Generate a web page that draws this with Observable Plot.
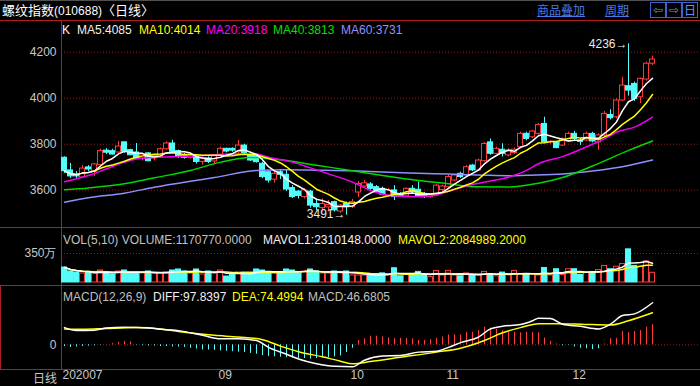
<!DOCTYPE html>
<html><head><meta charset="utf-8">
<script src="https://cdn.jsdelivr.net/npm/d3@7"></script>
<script src="https://cdn.jsdelivr.net/npm/@observablehq/plot@0.6"></script>
<style>
html,body{margin:0;padding:0;background:#000;}
#root{position:relative;width:700px;height:386px;background:#000;overflow:hidden;font-family:"Liberation Sans",Arial,sans-serif;font-size:12px;color:#c8c8c8;}
.abs{position:absolute;white-space:nowrap;line-height:14px;}
.hl{position:absolute;left:0;width:700px;height:1px;background:#b01e1e;}
.vl{position:absolute;width:1px;background:#b01e1e;}
.panel{position:absolute;left:0;}
.cjk{font-family:"Noto Sans CJK SC",sans-serif;}
.lnk{color:#4a78e8;text-decoration:underline;font-family:"Noto Sans CJK SC",sans-serif;font-size:12px;}
.btn{position:absolute;top:2px;width:14px;height:14px;border:1px solid #3c62d8;color:#6a90f0;font-size:12px;line-height:14px;text-align:center;font-family:"DejaVu Sans",sans-serif;}
</style></head>
<body><div id="root">
<div class="hl" style="top:0;background:#505050"></div>
<div class="abs cjk" style="left:2px;top:2px;color:#fff;font-size:13px;line-height:16px;">螺纹指数<span style="font-family:'Liberation Sans',Arial;font-size:12px;">(010688)</span>〈日线〉</div>
<div class="abs lnk" style="left:537px;top:2px;line-height:16px;">商品叠加</div>
<div class="abs lnk" style="left:605px;top:2px;line-height:16px;">周期</div>
<div class="btn" style="left:650px;">⇦</div>
<div class="btn" style="left:666px;">⇨</div>
<div class="btn cjk" style="left:682px;font-family:'Noto Sans CJK SC';">日</div>
<div class="hl" style="top:20px"></div>
<div class="hl" style="top:227px"></div>
<div class="hl" style="top:285px"></div>
<div class="hl" style="top:369px"></div>
<div class="vl" style="left:61px;top:20px;height:350px"></div>
<div class="vl" style="left:0;top:285px;height:85px"></div>
<div id="main" class="panel" style="top:20px"></div>
<div id="vol" class="panel" style="top:227px"></div>
<div id="macd" class="panel" style="top:286px"></div>
<div class="abs" style="left:62px;top:23px;color:#fff">K</div>
<div class="abs" style="left:77px;top:23px;color:#f0f0f0">MA5:4085</div>
<div class="abs" style="left:139px;top:23px;color:#ffff00">MA10:4014</div>
<div class="abs" style="left:206px;top:23px;color:#ff00ff">MA20:3918</div>
<div class="abs" style="left:273px;top:23px;color:#00e000">MA40:3813</div>
<div class="abs" style="left:341px;top:23px;color:#9090ff">MA60:3731</div>
<div class="abs" style="left:63px;top:233px;color:#c0c0c0">VOL(5,10) VOLUME:1170770.0000</div>
<div class="abs" style="left:263px;top:233px;color:#f0f0f0">MAVOL1:2310148.0000</div>
<div class="abs" style="left:398px;top:233px;color:#ffff00">MAVOL2:2084989.2000</div>
<div class="abs" style="left:63px;top:290px;color:#c0c0c0">MACD(12,26,9)</div>
<div class="abs" style="left:153px;top:290px;color:#f0f0f0">DIFF:97.8397</div>
<div class="abs" style="left:232px;top:290px;color:#ffff00">DEA:74.4994</div>
<div class="abs" style="left:308px;top:290px;color:#c0c0c0">MACD:46.6805</div>
<div class="abs cjk" style="left:33px;top:371px;color:#c8c8c8">日线</div>
</div>
<script>
// ---- data (daily candles, index 0 = first visible day) ----
const opens = [3741,3686,3668,3655,3699,3681,3709,3772,3770,3764,
 3808,3774,3764,3738,3760,3738,3745,3778,3803,3770,
 3752,3741,3745,3723,3738,3725,3751,3780,3780,3765,
 3794,3754,3748,3715,3678,3646,3678,3667,3609,3594,
 3570,3594,3540,3522,3525,3548,3507,3540,3526,3590,
 3616,3625,3613,3606,3577,3599,3584,3573,3606,3602,
 3584,3570,3577,3601,3613,3642,3671,3664,3707,3686,
 3726,3808,3758,3776,3751,3762,3787,3845,3830,3845,
 3888,3808,3806,3794,3812,3845,3815,3816,3845,3808,
 3838,3927,3917,3990,4052,4062,4004,4081,4150];
const highs = [3745,3716,3681,3707,3707,3716,3778,3781,3778,3812,
 3810,3778,3803,3760,3764,3755,3784,3810,3817,3774,
 3760,3762,3749,3745,3745,3755,3787,3782,3784,3816,
 3800,3765,3755,3722,3683,3681,3690,3686,3620,3599,
 3607,3599,3555,3562,3555,3552,3537,3548,3560,3637,
 3642,3633,3620,3613,3607,3620,3590,3610,3620,3635,
 3590,3581,3625,3622,3664,3668,3678,3707,3712,3735,
 3808,3823,3787,3802,3780,3784,3852,3852,3860,3890,
 3917,3815,3810,3826,3852,3856,3826,3852,3852,3845,
 3942,3950,3997,4091,4236,4070,4088,4157,4183];
const lows = [3673,3651,3651,3651,3681,3660,3707,3755,3752,3760,
 3760,3750,3735,3727,3723,3727,3741,3774,3760,3738,
 3735,3735,3714,3709,3716,3710,3748,3762,3765,3758,
 3757,3725,3718,3650,3631,3631,3646,3594,3564,3562,
 3562,3522,3510,3505,3510,3505,3500,3491,3520,3568,
 3610,3599,3586,3577,3570,3555,3568,3570,3586,3568,
 3565,3566,3573,3595,3607,3638,3651,3660,3681,3683,
 3722,3752,3755,3744,3745,3755,3780,3815,3825,3840,
 3806,3800,3780,3790,3808,3815,3795,3812,3806,3773,
 3830,3905,3910,3986,4009,3986,3977,4075,4142];
const closes = [3683,3660,3660,3694,3690,3712,3770,3763,3755,3790,
 3767,3752,3738,3755,3726,3749,3778,3803,3767,3745,
 3741,3752,3723,3738,3723,3751,3780,3768,3772,3794,
 3762,3729,3722,3657,3642,3671,3667,3603,3570,3575,
 3599,3533,3526,3540,3536,3512,3533,3526,3548,3627,
 3630,3606,3591,3581,3599,3570,3573,3606,3591,3573,
 3570,3577,3620,3616,3657,3664,3657,3700,3686,3729,
 3801,3758,3780,3758,3773,3776,3845,3823,3855,3884,
 3808,3810,3783,3823,3845,3823,3810,3845,3812,3838,
 3932,3913,3990,4055,4033,3997,4084,4150,4168];
// volume in 万 (10k lots)
const volumes = [181,133,121,109,121,109,145,121,97,133,
 145,121,121,109,133,109,109,121,145,157,
 133,109,157,97,133,109,145,72,97,121,
 121,121,157,145,121,109,121,157,145,109,
 133,157,133,109,109,133,121,133,85,85,
 85,90,100,110,90,172,75,100,100,128,
 90,65,140,85,140,85,75,110,90,100,
 128,100,75,120,90,140,100,100,100,85,
 175,85,160,90,160,160,90,120,120,150,
 200,160,190,223,400,200,190,255,117.077];
const macdHist = [-4,-6,-5,-4,-3,-2,-1,1,3,6,
 8,7,-1,-2,-3,-3,-4,-4,-5,-5,
 -6,-8,-10,-12,-12,-13,-14,-15,-16,-17,
 -18,-20,-22,-25,-27,-28,-29,-30,-31,-32,
 -32,-33,-32,-31,-30,-28,-26,-18,-8,10,
 14,20,20,18,16,14,15,15,14,10,
 10,12,15,18,23,23,23,29,29,33,
 41,39,36,33,29,29,28,29,29,28,
 16,8,2,-2,-1,-5,-8,-9,-11,-9,
 2,14,15,31,28,31,33,41,46.68];
// longer moving averages at sample days
const ma20Idx = [0,4,7,10,12,15,18,23,29,32,34,38,41,44,48,51,54,58,61,64,68,71,74,77,79,83,88,90,92,95,98];
const ma20Val = [3637,3664,3693,3722,3736,3743,3745,3751,3758,3757,3743,3722,3697,3671,3635,3599,3577,3572,3575,3595,3625,3640,3656,3686,3715,3746,3800,3823,3852,3874,3918];
const ma40Idx = [0,4,10,15,21,26,31,36,42,48,53,59,64,68,74,79,83,88,94,98];
const ma40Val = [3602,3610,3628,3654,3686,3722,3742,3732,3708,3685,3664,3642,3628,3615,3614,3630,3655,3705,3773,3814];
const ma60Idx = [0,4,10,15,21,25,32,37,42,48,53,59,64,70,74,77,83,88,94,98];
const ma60Val = [3548,3567,3587,3613,3639,3655,3686,3689,3687,3684,3679,3674,3670,3665,3663,3665,3670,3683,3707,3731];
const diffIdx = [0,2,5,7,10,14,17,19,23,26,29,32,34,37,39,42,45,48,50,53,56,59,62,64,66,69,71,73,76,78,79,81,83,86,89,91,93,95,98];
const diffVal = [40,33,34,39,41,39,35,33,22,14,14,10,-6,-22,-33,-44,-50,-51,-36,-26,-25,-17,-15,-6,5,18,37,43,47,56,62,61,48,43,37,48,68,72,97.84];
const deaIdx = [0,3,7,12,16,20,25,29,33,36,39,43,46,48,51,56,62,66,70,73,76,79,82,86,91,94,98];
const deaVal = [37,36,38,40,37,29,22,18,12,-3,-16,-28,-38,-44,-39,-29,-17,-8,10,28,40,49,49,48,46,56,74.5];
const priceTicks = [3600,3800,4000,4200];
const volTicks = [350];
const macdTicks = [0];
const monthIdx = [0,26,48,64,85];
const monthLabels = ["202007","09","10","11","12"];

// ---- drawing ----
const RED = "#ff3c3c", CYAN = "#54fcfc", GRID = "#a01818", TXT = "#c8c8c8";
const FONT = "'Liberation Sans', Arial, sans-serif";
const HW = 0.42; // half body width (in days)
const days = closes.map((c, i) => ({i, open: opens[i], high: highs[i], low: lows[i], close: c,
  vol: volumes[i], hist: macdHist[i], up: c >= opens[i]}));
const common = {width: 700, marginLeft: 61, marginRight: 0, marginTop: 0,
  style: {background: "transparent", color: TXT, fontSize: "12px", fontFamily: FONT, overflow: "visible"},
  x: {domain: [-0.5, 106], axis: null}};
const hiI = d3.maxIndex(highs), loI = d3.minIndex(lows);
const axisOpts = {anchor: "left", tickSize: 0, tickPadding: 5, fill: TXT, label: null, tickFormat: d => String(d)};

try {
const main = Plot.plot({...common, height: 207, marginBottom: 0,
  y: {domain: [3437.8, 4337.8], axis: null},
  marks: [
    Plot.ruleY(priceTicks, {stroke: GRID, strokeDasharray: "1,2"}),
    Plot.axisY(priceTicks, axisOpts),
    Plot.ruleX(days, {x: "i", y1: "low", y2: "high", stroke: d => d.up ? RED : CYAN}),
    Plot.rect(days, {x1: d => d.i - HW, x2: d => d.i + HW, y1: "open", y2: "close",
      fill: d => d.up ? "#000000" : CYAN, stroke: d => d.up ? RED : CYAN}),
    Plot.line(ma60Idx, {x: d => d, y: ma60Val, stroke: "#8f8fff", curve: "monotone-x"}),
    Plot.line(ma40Idx, {x: d => d, y: ma40Val, stroke: "#00d800", curve: "monotone-x"}),
    Plot.line(ma20Idx, {x: d => d, y: ma20Val, stroke: "#f000f0", curve: "monotone-x"}),
    Plot.lineY(days, Plot.windowY({k: 10, anchor: "end"}, {x: "i", y: "close", stroke: "#ffff00"})),
    Plot.lineY(days, Plot.windowY({k: 5, anchor: "end"}, {x: "i", y: "close", stroke: "#ffffff"})),
    Plot.text([hiI], {x: d => d, y: d => highs[d], text: d => highs[d] + "→", textAnchor: "end", dx: -1, fill: "#e8e8e8", fontSize: 12}),
    Plot.text([loI], {x: d => d, y: d => lows[d], text: d => lows[d] + "→", textAnchor: "end", dx: -1, dy: -1, fill: "#e8e8e8", fontSize: 12})
  ]});
document.getElementById("main").appendChild(main);

const vol = Plot.plot({...common, height: 59, marginBottom: 0,
  y: {domain: [-48.3, 663.8], axis: null},
  marks: [
    Plot.ruleY(volTicks, {stroke: GRID, strokeDasharray: "1,2"}),
    Plot.axisY(volTicks, {...axisOpts, tickFormat: d => d + "万"}),
    Plot.rect(days, {x1: d => d.i - HW, x2: d => d.i + HW, y1: 0, y2: "vol",
      fill: d => d.up ? "#000000" : CYAN, stroke: d => d.up ? RED : CYAN}),
    Plot.lineY(days, Plot.windowY({k: 10, anchor: "end"}, {x: "i", y: "vol", stroke: "#ffff00"})),
    Plot.lineY(days, Plot.windowY({k: 5, anchor: "end"}, {x: "i", y: "vol", stroke: "#ffffff"}))
  ]});
document.getElementById("vol").appendChild(vol);

const macd = Plot.plot({...common, height: 100, marginBottom: 17,
  y: {domain: [-57.4, 135.6], axis: null},
  marks: [
    Plot.ruleY(macdTicks, {stroke: GRID, strokeDasharray: "1,2"}),
    Plot.axisY(macdTicks, axisOpts),
    Plot.ruleX(days, {x: "i", y1: 0, y2: "hist", stroke: d => d.hist >= 0 ? RED : CYAN}),
    Plot.line(deaIdx, {x: d => d, y: deaVal, stroke: "#ffff00", curve: "monotone-x"}),
    Plot.line(diffIdx, {x: d => d, y: diffVal, stroke: "#ffffff", curve: "monotone-x"}),
    Plot.text(monthIdx, {x: d => d, frameAnchor: "bottom", text: (d, j) => monthLabels[j],
      textAnchor: "start", dx: -2, dy: 9, fill: TXT})
  ]});
document.getElementById("macd").appendChild(macd);
} catch (e) {
  const p = document.createElement("pre"); p.style.color = "red"; p.textContent = e.stack; document.body.appendChild(p);
}
</script>
</body></html>
